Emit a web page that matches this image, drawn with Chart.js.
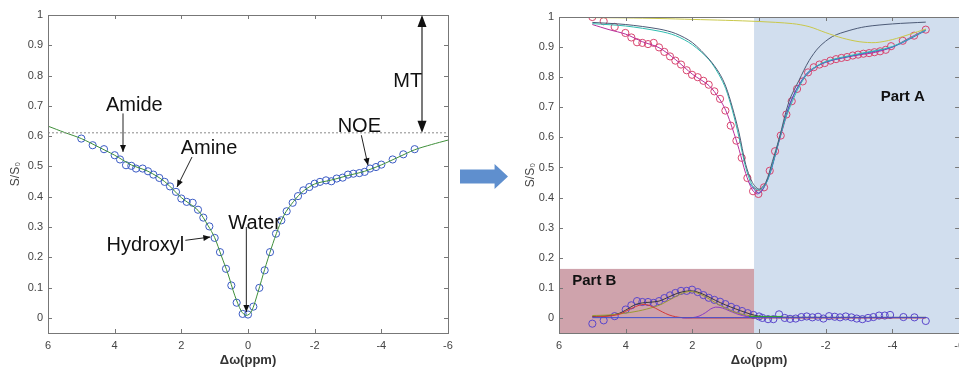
<!DOCTYPE html>
<html>
<head>
<meta charset="utf-8">
<script src="https://cdn.jsdelivr.net/npm/chart.js@4"></script>
<style>
  html, body { margin: 0; padding: 0; background: #fff; }
  body { width: 959px; height: 368px; overflow: hidden; position: relative; }
  #left { position: absolute; left: 0; top: 0; }
  #right { position: absolute; left: 500px; top: 0; }
  #arrow {
    position: absolute; left: 460px; top: 164px; width: 48px; height: 25px;
    background: #5f8fce;
    clip-path: polygon(0 22%, 72% 22%, 72% 0, 100% 50%, 72% 100%, 72% 78%, 0 78%);
    z-index: 2;
  }
</style>
</head>
<body>
<canvas id="left" width="460" height="368"></canvas>
<canvas id="right" width="470" height="368"></canvas>
<div id="arrow"></div>
<script>
// ---- axis ticks
const xTicks = [6, 4, 2, 0, -2, -4, -6];
const yTicks = [0, 0.1, 0.2, 0.3, 0.4, 0.5, 0.6, 0.7, 0.8, 0.9, 1];

// ---- left panel: measured Z-spectrum + fit
const leftPtsX = [5.0, 4.66, 4.32, 4.0, 3.84, 3.66, 3.5, 3.36, 3.16, 3.0, 2.84, 2.66, 2.5, 2.34, 2.16, 2.0, 1.84, 1.66, 1.5, 1.34, 1.16, 1.0, 0.84, 0.66, 0.5, 0.34, 0.16, 0.0,
  -0.16, -0.34, -0.5, -0.66, -0.84, -1.0, -1.16, -1.34, -1.5, -1.66, -1.84, -2.0, -2.16, -2.34, -2.5, -2.66, -2.84, -3.0, -3.16, -3.34, -3.5, -3.66, -3.84, -4.0, -4.34, -4.66, -5.0];
const leftPtsY = [0.592, 0.570, 0.557, 0.537, 0.523, 0.504, 0.502, 0.493, 0.493, 0.484, 0.473, 0.462, 0.449, 0.434, 0.416, 0.394, 0.383, 0.380, 0.357, 0.331, 0.302, 0.264, 0.217, 0.162, 0.107, 0.050, 0.013, 0.011,
  0.037, 0.099, 0.157, 0.217, 0.278, 0.322, 0.352, 0.380, 0.402, 0.421, 0.432, 0.443, 0.449, 0.454, 0.451, 0.460, 0.463, 0.473, 0.476, 0.478, 0.482, 0.493, 0.498, 0.506, 0.523, 0.540, 0.557];
const leftFitX = [6, 5.5, 5, 4.5, 4, 3.5, 3, 2.5, 2, 1.5, 1.2, 1.0, 0.8, 0.6, 0.4, 0.2, 0.05, -0.1, -0.3, -0.5, -0.7, -0.9, -1.1, -1.3, -1.6, -2.0, -2.5, -3.0, -3.5, -4.0, -4.5, -5.0, -5.5, -6];
const leftFitY = [0.633, 0.612, 0.592, 0.565, 0.537, 0.505, 0.484, 0.450, 0.397, 0.355, 0.305, 0.265, 0.205, 0.145, 0.075, 0.022, 0.008, 0.020, 0.085, 0.160, 0.230, 0.293, 0.343, 0.375, 0.413, 0.442, 0.455, 0.470, 0.484, 0.505, 0.530, 0.555, 0.572, 0.587];
const mtLevel = 0.611;

// ---- right panel, part A
const topPtsX = [5.0, 4.66, 4.33, 4.01, 3.83, 3.66, 3.5, 3.33, 3.16, 3.0, 2.84, 2.67, 2.51, 2.34, 2.17, 2.01, 1.84, 1.67, 1.51, 1.34, 1.17, 1.01, 0.85, 0.68, 0.52, 0.35, 0.18, 0.02,
  -0.15, -0.32, -0.48, -0.65, -0.82, -0.98, -1.14, -1.31, -1.47, -1.64, -1.81, -1.97, -2.14, -2.31, -2.47, -2.64, -2.81, -2.97, -3.13, -3.3, -3.46, -3.63, -3.8, -3.96, -4.31, -4.65, -5.0];
const topPtsY = [1.0, 0.986, 0.967, 0.947, 0.932, 0.916, 0.914, 0.910, 0.914, 0.899, 0.884, 0.869, 0.855, 0.842, 0.823, 0.808, 0.800, 0.788, 0.775, 0.753, 0.728, 0.689, 0.639, 0.589, 0.532, 0.465, 0.421, 0.412,
  0.434, 0.489, 0.554, 0.606, 0.676, 0.720, 0.761, 0.786, 0.816, 0.833, 0.842, 0.847, 0.855, 0.860, 0.864, 0.867, 0.872, 0.875, 0.878, 0.880, 0.883, 0.886, 0.891, 0.903, 0.921, 0.938, 0.958];
const magFitX = [5, 4.5, 4, 3.5, 3, 2.5, 2, 1.5, 1.2, 1.0, 0.8, 0.6, 0.4, 0.2, 0.05, -0.1, -0.3, -0.5, -0.7, -0.9, -1.1, -1.3, -1.5, -1.8, -2.2, -2.6, -3.0, -3.5, -4.0, -4.5, -5.0];
const magFitY = [0.975, 0.958, 0.943, 0.918, 0.898, 0.858, 0.810, 0.772, 0.730, 0.690, 0.630, 0.560, 0.480, 0.425, 0.412, 0.425, 0.475, 0.548, 0.625, 0.700, 0.755, 0.790, 0.815, 0.840, 0.857, 0.866, 0.874, 0.883, 0.900, 0.930, 0.958];
const blueFitX = [0.3, 0.0, -0.3, -0.6, -0.9, -1.2, -1.5, -2.0, -3.0, -4.0, -5.0];
const blueFitY = [0.450, 0.415, 0.470, 0.590, 0.705, 0.775, 0.820, 0.850, 0.876, 0.900, 0.955];
const cyanX = [5, 4, 3, 2.5, 2, 1.5, 1.2, 1.0, 0.8, 0.6, 0.4, 0.2, 0.0, -0.2, -0.4, -0.6, -0.8, -1.0, -1.2, -1.5, -2.0, -3.0, -4.0, -5.0];
const cyanY = [0.978, 0.970, 0.953, 0.938, 0.908, 0.858, 0.808, 0.762, 0.690, 0.600, 0.500, 0.440, 0.425, 0.445, 0.510, 0.590, 0.665, 0.720, 0.768, 0.818, 0.852, 0.878, 0.902, 0.957];
const darkX = [5, 4, 3, 2.5, 2, 1.5, 1.2, 1.0, 0.8, 0.6, 0.4, 0.2, 0.0, -0.2, -0.4, -0.6, -0.9, -1.2, -1.5, -1.8, -2.2, -2.7, -3.2, -4.0, -5.0];
const darkY = [0.982, 0.975, 0.960, 0.945, 0.915, 0.860, 0.815, 0.770, 0.700, 0.615, 0.510, 0.450, 0.428, 0.450, 0.520, 0.595, 0.720, 0.790, 0.855, 0.900, 0.935, 0.955, 0.968, 0.977, 0.983];
const mtX = [5, 4, 3, 2, 1, 0, -1, -1.5, -2, -2.5, -3, -3.5, -4, -4.5, -5];
const mtY = [0.998, 0.997, 0.995, 0.992, 0.989, 0.985, 0.978, 0.968, 0.948, 0.930, 0.918, 0.915, 0.925, 0.942, 0.960];

// ---- right panel, part B (residual + pools)
const resPtsX = [5.0, 4.66, 4.33, 4.0, 3.83, 3.66, 3.5, 3.33, 3.16, 3.0, 2.84, 2.67, 2.51, 2.34, 2.17, 2.01, 1.84, 1.67, 1.51, 1.34, 1.17, 1.01, 0.84, 0.68, 0.51, 0.34, 0.17, 0.0,
  -0.1, -0.27, -0.43, -0.6, -0.77, -0.93, -1.1, -1.27, -1.43, -1.6, -1.77, -1.93, -2.1, -2.27, -2.43, -2.6, -2.77, -2.93, -3.1, -3.27, -3.43, -3.6, -3.77, -3.93, -4.33, -4.66, -5.0];
const resPtsY = [-0.019, -0.008, 0.006, 0.028, 0.042, 0.056, 0.053, 0.053, 0.050, 0.056, 0.066, 0.075, 0.083, 0.090, 0.090, 0.094, 0.086, 0.076, 0.067, 0.060, 0.054, 0.046, 0.037, 0.030, 0.023, 0.016, 0.010, 0.005,
  0.0, -0.004, -0.004, 0.012, 0.0, -0.003, -0.002, 0.003, 0.005, 0.002, 0.004, -0.002, 0.006, 0.004, 0.002, 0.005, 0.002, -0.002, -0.004, 0.0, 0.003, 0.008, 0.008, 0.010, 0.003, 0.002, -0.010];
const amideX = [5, 4.5, 4.2, 4.0, 3.8, 3.6, 3.45, 3.3, 3.1, 2.9, 2.7, 2.5, 2.3, 2.0, 0, -5];
const amideY = [0.003, 0.006, 0.012, 0.022, 0.033, 0.042, 0.045, 0.042, 0.032, 0.020, 0.010, 0.004, 0.001, 0.0, 0.0, 0.0];
const amineX = [5, 4.5, 4, 3.5, 3, 2.6, 2.3, 2.1, 1.9, 1.6, 1.3, 1.0, 0.7, 0.4, 0.1, -0.5];
const amineY = [0.008, 0.010, 0.016, 0.026, 0.042, 0.065, 0.082, 0.088, 0.085, 0.070, 0.050, 0.032, 0.018, 0.010, 0.004, 0.003];
const hydroxylX = [2.3, 2.0, 1.8, 1.6, 1.45, 1.3, 1.1, 0.9, 0.7, 0.5, 0.3, 0.1];
const hydroxylY = [0.0, 0.001, 0.006, 0.018, 0.030, 0.036, 0.033, 0.024, 0.015, 0.008, 0.003, 0.001];
const sumX = [5, 4.5, 4.2, 4.0, 3.7, 3.5, 3.3, 3.0, 2.7, 2.4, 2.1, 1.9, 1.6, 1.3, 1.0, 0.7, 0.4, 0.1, -0.3, -5];
const sumY = [0.005, 0.008, 0.015, 0.026, 0.045, 0.050, 0.052, 0.056, 0.070, 0.084, 0.090, 0.088, 0.075, 0.058, 0.043, 0.030, 0.018, 0.008, 0.003, 0.002];
const baseX = [5, -5];
const baseY = [0.001, 0.001];
const noeX = [0.3, -0.7];
const noeY = [0.005, 0.005];
const partEdge = 0.15;   // ppm where part A shading starts
const partBTop = 0.163;  // S/S0 top of part B box

const pts = (xs, ys) => xs.map((x, i) => ({ x: x, y: ys[i] }));

const tickFont = { family: 'Liberation Sans, Arial, sans-serif', size: 11 };
const tickColor = '#444';

function lineSet(xs, ys, color, extra) {
  return Object.assign({
    data: pts(xs, ys), showLine: true, borderColor: color, borderWidth: 1,
    pointRadius: 0, tension: 0.3, fill: false
  }, extra || {});
}
function dotSet(xs, ys, color) {
  return {
    data: pts(xs, ys), showLine: false, pointStyle: 'circle', pointRadius: 3.6,
    pointBorderColor: color, pointBackgroundColor: 'rgba(0,0,0,0)', pointBorderWidth: 1
  };
}

function makeScales(yWidth, yTitlePad) {
  return {
    x: {
      type: 'linear', reverse: true, min: -6, max: 6,
      afterBuildTicks: s => { s.ticks = xTicks.map(v => ({ value: v })); },
      afterFit: s => { s.height = 35; },
      grid: { display: false, drawTicks: false }, border: { display: false },
      ticks: { padding: 6, font: tickFont, color: tickColor, maxRotation: 0, autoSkip: false, callback: v => String(v) },
      title: { display: true, text: 'Δω(ppm)', color: '#333', padding: { top: 0, bottom: 0 },
        font: { family: 'Liberation Sans, Arial, sans-serif', size: 13, weight: 'bold' } }
    },
    y: {
      min: -0.05, max: 1,
      afterBuildTicks: s => { s.ticks = yTicks.map(v => ({ value: v })); },
      afterFit: s => { s.width = yWidth; },
      grid: { display: false, drawTicks: false }, border: { display: false },
      ticks: { padding: 5, font: tickFont, color: tickColor, autoSkip: false, callback: v => String(v) },
      title: { display: true, text: 'S/S₀', color: '#444', padding: { top: yTitlePad, bottom: 0 },
        font: { family: 'Liberation Sans, Arial, sans-serif', size: 12 } }
    }
  };
}

// box around plot + inward tick marks (matlab look)
const framePlugin = {
  id: 'frame',
  afterDatasetsDraw(chart) {
    const { ctx, chartArea: a, scales: { x, y } } = chart;
    ctx.save();
    ctx.strokeStyle = '#777';
    ctx.lineWidth = 1;
    ctx.strokeRect(a.left + 0.5, a.top + 0.5, a.right - a.left, a.bottom - a.top);
    ctx.beginPath();
    xTicks.forEach(v => {
      const px = Math.round(x.getPixelForValue(v)) + 0.5;
      ctx.moveTo(px, a.bottom); ctx.lineTo(px, a.bottom - 4);
      ctx.moveTo(px, a.top); ctx.lineTo(px, a.top + 4);
    });
    yTicks.forEach(v => {
      const py = Math.round(y.getPixelForValue(v)) + 0.5;
      ctx.moveTo(a.left, py); ctx.lineTo(a.left + 4, py);
      ctx.moveTo(a.right, py); ctx.lineTo(a.right - 4, py);
    });
    ctx.stroke();
    ctx.restore();
  }
};

function arrowHead(ctx, x1, y1, x2, y2, len, half) {
  const ang = Math.atan2(y2 - y1, x2 - x1);
  ctx.beginPath();
  ctx.moveTo(x2, y2);
  ctx.lineTo(x2 - len * Math.cos(ang) + half * Math.sin(ang), y2 - len * Math.sin(ang) - half * Math.cos(ang));
  ctx.lineTo(x2 - len * Math.cos(ang) - half * Math.sin(ang), y2 - len * Math.sin(ang) + half * Math.cos(ang));
  ctx.closePath();
  ctx.fill();
}

// peak labels on the left panel, placed in data units
const notes = [
  { text: 'Amide', tx: 3.41, ty: 0.702, from: [3.75, 0.675], to: [3.75, 0.548] },
  { text: 'Amine', tx: 1.17, ty: 0.559, from: [1.68, 0.531], to: [2.13, 0.432] },
  { text: 'Hydroxyl', tx: 3.08, ty: 0.239, from: [1.88, 0.256], to: [1.13, 0.267] },
  { text: 'Water', tx: -0.2, ty: 0.313, from: [0.05, 0.300], to: [0.05, 0.019] },
  { text: 'NOE', tx: -3.34, ty: 0.631, from: [-3.4, 0.603], to: [-3.6, 0.504] },
  { text: 'MT', tx: -4.79, ty: 0.782 }
];
const mtArrowX = -5.22;

const notesPlugin = {
  id: 'notes',
  afterDatasetsDraw(chart) {
    const { ctx, scales: { x, y } } = chart;
    ctx.save();
    ctx.fillStyle = '#111';
    ctx.strokeStyle = '#222';
    ctx.lineWidth = 1;
    notes.forEach(n => {
      if (n.from) {
        const x1 = x.getPixelForValue(n.from[0]), y1 = y.getPixelForValue(n.from[1]);
        const x2 = x.getPixelForValue(n.to[0]), y2 = y.getPixelForValue(n.to[1]);
        ctx.beginPath(); ctx.moveTo(x1, y1); ctx.lineTo(x2, y2); ctx.stroke();
        arrowHead(ctx, x1, y1, x2, y2, 7, 3);
      }
    });
    // MT double arrow
    const mx = x.getPixelForValue(mtArrowX);
    const yTop = y.getPixelForValue(1), yBot = y.getPixelForValue(mtLevel);
    ctx.lineWidth = 1.2;
    ctx.beginPath(); ctx.moveTo(mx, yTop + 8); ctx.lineTo(mx, yBot - 8); ctx.stroke();
    arrowHead(ctx, mx, yBot, mx, yTop, 12, 4.5);
    arrowHead(ctx, mx, yTop, mx, yBot, 12, 4.5);
    ctx.font = '20px "Liberation Sans", Arial, sans-serif';
    ctx.textAlign = 'center';
    ctx.textBaseline = 'middle';
    notes.forEach(n => {
      ctx.fillText(n.text, x.getPixelForValue(n.tx), y.getPixelForValue(n.ty));
    });
    ctx.restore();
  }
};

const shadePlugin = {
  id: 'shade',
  beforeDatasetsDraw(chart) {
    const { ctx, chartArea: a, scales: { x, y } } = chart;
    const ex = x.getPixelForValue(partEdge);
    const by = y.getPixelForValue(partBTop);
    ctx.save();
    ctx.fillStyle = '#d1deee';
    ctx.fillRect(ex, a.top, a.right - ex, a.bottom - a.top);
    ctx.fillStyle = '#cfa3ac';
    ctx.fillRect(a.left, by, ex - a.left, a.bottom - by);
    ctx.restore();
  },
  afterDatasetsDraw(chart) {
    const { ctx, scales: { x, y } } = chart;
    ctx.save();
    ctx.fillStyle = '#111';
    ctx.font = 'bold 15px "Liberation Sans", Arial, sans-serif';
    ctx.textAlign = 'center';
    ctx.textBaseline = 'middle';
    ctx.fillText('Part A', x.getPixelForValue(-4.31), y.getPixelForValue(0.736));
    ctx.fillText('Part B', x.getPixelForValue(4.94), y.getPixelForValue(0.124));
    ctx.restore();
  }
};

const baseOpts = {
  responsive: false, animation: false, devicePixelRatio: 1,
  plugins: { legend: { display: false }, tooltip: { enabled: false } }
};

new Chart(document.getElementById('left'), {
  type: 'scatter',
  data: {
    datasets: [
      lineSet([6, -6], [mtLevel, mtLevel], '#8a8a8a', { borderDash: [2, 2], tension: 0 }),
      lineSet(leftFitX, leftFitY, '#3f8f3a'),
      dotSet(leftPtsX, leftPtsY, '#3b5bc4')
    ]
  },
  options: Object.assign({}, baseOpts, {
    layout: { padding: { top: 15, right: 12, left: 0, bottom: 0 } },
    scales: makeScales(48, 8)
  }),
  plugins: [framePlugin, notesPlugin]
});

new Chart(document.getElementById('right'), {
  type: 'scatter',
  data: {
    datasets: [
      lineSet(mtX, mtY, '#c9c84a'),
      lineSet(darkX, darkY, '#4c5a76'),
      lineSet(cyanX, cyanY, '#2fbcb0'),
      lineSet(blueFitX, blueFitY, '#4a56c8'),
      lineSet(magFitX, magFitY, '#b8309c'),
      dotSet(topPtsX, topPtsY, '#d8456e'),
      lineSet(baseX, baseY, '#4050d0', { tension: 0 }),
      lineSet(noeX, noeY, '#2f9f34', { tension: 0 }),
      lineSet(amideX, amideY, '#d23a3a'),
      lineSet(amineX, amineY, '#9a9a34'),
      lineSet(hydroxylX, hydroxylY, '#8a3cc4'),
      lineSet(sumX, sumY, '#3a3a3a'),
      dotSet(resPtsX, resPtsY, '#5a46cc')
    ]
  },
  options: Object.assign({}, baseOpts, {
    layout: { padding: { top: 17, right: 9, left: 0, bottom: 0 } },
    scales: makeScales(59, 23)
  }),
  plugins: [shadePlugin, framePlugin]
});
</script>
</body>
</html>
